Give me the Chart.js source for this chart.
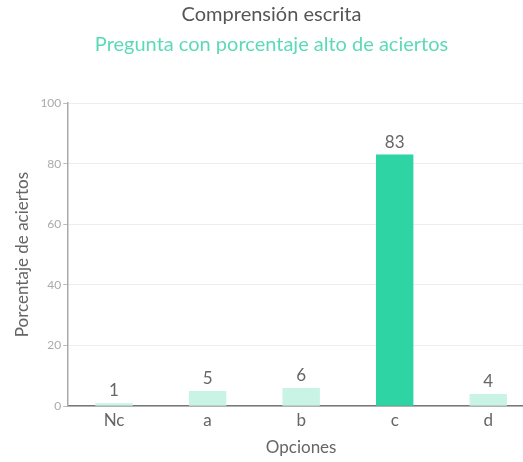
<!DOCTYPE html>
<html>
<head>
<meta charset="utf-8">
<script src="https://cdn.jsdelivr.net/npm/chart.js@4"></script>
<style>
  html, body { margin: 0; padding: 0; background: #fff; overflow: hidden; }
  #wrap { width: 535px; height: 462px; }
</style>
</head>
<body>
<div id="wrap"><canvas id="myChart" width="535" height="462"></canvas></div>
<script>
// values
const opciones = ['Nc', 'a', 'b', 'c', 'd'];
const aciertos = [1, 5, 6, 83, 4];
const colores = ['#c8f3e5', '#c8f3e5', '#c8f3e5', '#2fd4a4', '#c8f3e5'];
const yTicks = [0, 20, 40, 60, 80, 100];

const font = "Lato, 'Open Sans', sans-serif";

// write the value above each bar
const valueLabels = {
    id: 'valueLabels',
    afterDatasetsDraw(chart) {
        const ctx = chart.ctx;
        const meta = chart.getDatasetMeta(0);
        ctx.save();
        ctx.font = '17px ' + font;
        ctx.fillStyle = '#666';
        ctx.textAlign = 'center';
        ctx.textBaseline = 'bottom';
        meta.data.forEach((bar, i) => {
            ctx.fillText(aciertos[i], bar.x, bar.y - 4);
        });
        ctx.restore();
    }
};

const ctx = document.getElementById('myChart');
new Chart(ctx, {
    type: 'bar',
    data: {
        labels: opciones,
        datasets: [{
            data: aciertos,
            backgroundColor: colores,
            borderWidth: 0,
            barPercentage: 0.8,
            categoryPercentage: 0.5
        }]
    },
    options: {
        responsive: false,
        animation: false,
        layout: { padding: { top: 0, left: 8, right: 0, bottom: 0 } },
        plugins: {
            legend: { display: false },
            tooltip: { enabled: false },
            title: {
                display: true,
                text: 'Comprensión escrita',
                color: '#555',
                font: { family: font, size: 20, weight: 'normal' },
                padding: { top: 3, bottom: 6 }
            },
            subtitle: {
                display: true,
                text: 'Pregunta con porcentaje alto de aciertos',
                color: '#5cdab7',
                font: { family: font, size: 20, weight: 'normal' },
                padding: { top: 0, bottom: 46 }
            }
        },
        scales: {
            x: {
                grid: { display: false, drawTicks: false },
                border: { color: '#777', width: 1.5 },
                ticks: { color: '#666', font: { family: font, size: 17 }, padding: 4 },
                title: {
                    display: true,
                    text: 'Opciones',
                    color: '#666',
                    font: { family: font, size: 17 },
                    padding: { top: 3 }
                }
            },
            y: {
                min: 0,
                max: 100,
                afterBuildTicks: (axis) => { axis.ticks = yTicks.map(v => ({ value: v })); },
                grid: { color: '#eeeeee', drawTicks: true, tickLength: 4, tickColor: '#bbb' },
                border: { color: '#aaa', width: 1.5 },
                ticks: { color: '#aaa', font: { family: font, size: 12 }, padding: 2 },
                title: {
                    display: true,
                    text: 'Porcentaje de aciertos',
                    color: '#666',
                    font: { family: font, size: 17 },
                    padding: { bottom: 6 }
                }
            }
        }
    },
    plugins: [valueLabels]
});
</script>
</body>
</html>
